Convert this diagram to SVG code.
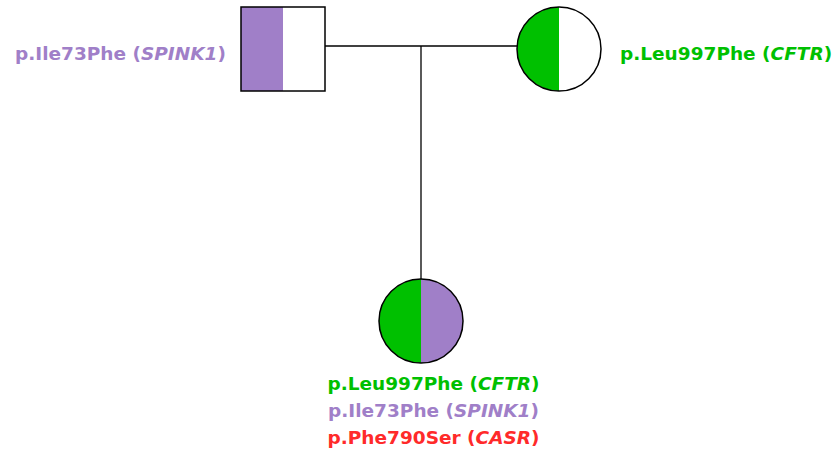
<svg xmlns="http://www.w3.org/2000/svg" width="837" height="454" viewBox="0 0 837 454">
<style>
.t{font-family:"DejaVu Sans",sans-serif;font-weight:bold;font-size:18.5px}
.g{fill:#00c000}.p{fill:#a07fc8}.r{fill:#ff2a2a}
.o{fill:none;stroke:#000;stroke-width:1.5}
.l{stroke:#000;stroke-width:1.3;fill:none}
</style>
<rect width="837" height="454" fill="#fff"/>
<g id="connectors">
<line class="l" x1="325" y1="46" x2="517" y2="46"/>
<line class="l" x1="421" y1="46" x2="421" y2="279"/>
</g>
<g id="father">
<rect x="241" y="7" width="84" height="84" fill="#fff"/>
<rect x="241" y="7" width="42" height="84" fill="#a07fc8"/>
<rect class="o" x="241" y="7" width="84" height="84"/>
<text class="t p" x="15" y="60">p.Ile73Phe (<tspan font-style="italic">SPINK1</tspan>)</text>
</g>
<g id="mother">
<circle cx="559" cy="49" r="42" fill="#fff"/>
<path d="M559,7 A42,42 0 0 0 559,91 Z" fill="#00c000"/>
<circle class="o" cx="559" cy="49" r="42"/>
<text class="t g" x="620" y="60">p.Leu997Phe (<tspan font-style="italic">CFTR</tspan>)</text>
</g>
<g id="child">
<path d="M421,279 A42,42 0 0 0 421,363 Z" fill="#00c000"/>
<path d="M421,279 A42,42 0 0 1 421,363 Z" fill="#a07fc8"/>
<circle class="o" cx="421" cy="321" r="42"/>
<text class="t g" x="433.5" y="390" text-anchor="middle">p.Leu997Phe (<tspan font-style="italic">CFTR</tspan>)</text>
<text class="t p" x="433.5" y="417" text-anchor="middle">p.Ile73Phe (<tspan font-style="italic">SPINK1</tspan>)</text>
<text class="t r" x="433.5" y="444" text-anchor="middle">p.Phe790Ser (<tspan font-style="italic">CASR</tspan>)</text>
</g>
</svg>
